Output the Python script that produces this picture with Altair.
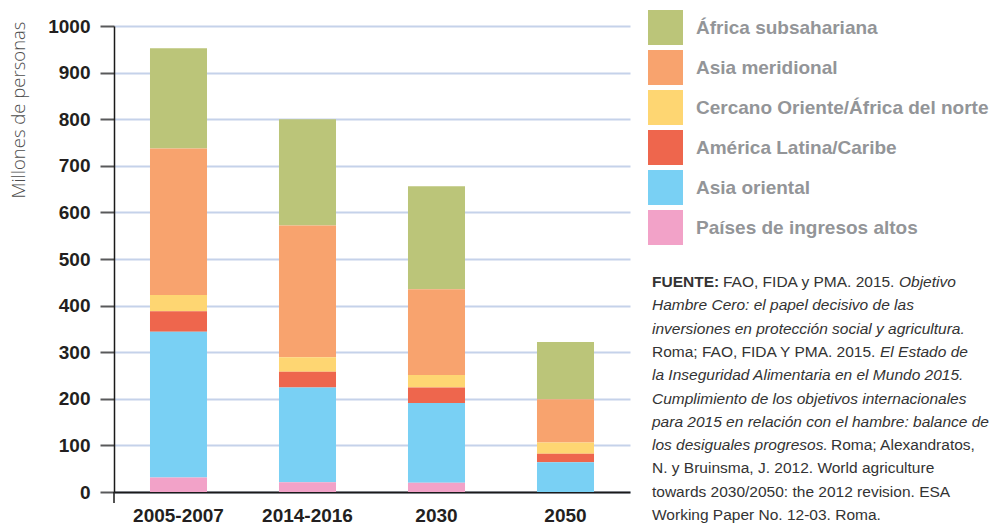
import altair as alt
import pandas as pd

# ---------------- data ----------------
periods = ["2005-2007", "2014-2016", "2030", "2050"]
regions = [
    "África subsahariana",
    "Asia meridional",
    "Cercano Oriente/África del norte",
    "América Latina/Caribe",
    "Asia oriental",
    "Países de ingresos altos",
]
colors = ["#bbc579", "#f8a36e", "#fed672", "#ee664d", "#79d0f4", "#f2a2c8"]

africa_subsahariana = [215, 228, 221, 123]
asia_meridional = [314, 283, 184, 93]
cercano_oriente = [35, 31, 27, 24]
america_latina = [44, 34, 33, 18]
asia_oriental = [313, 203, 171, 64]
ingresos_altos = [31, 21, 20, 0]

series = [africa_subsahariana, asia_meridional, cercano_oriente,
          america_latina, asia_oriental, ingresos_altos]

y_ticks = [0, 100, 200, 300, 400, 500, 600, 700, 800, 900, 1000]

source_lines = [
    ["FUENTE:", "FAO, FIDA y PMA. 2015.", "Objetivo"],
    ["Hambre Cero: el papel decisivo de las"],
    ["inversiones en protección social y agricultura."],
    ["Roma; FAO, FIDA Y PMA. 2015.", "El Estado de"],
    ["la Inseguridad Alimentaria en el Mundo 2015."],
    ["Cumplimiento de los objetivos internacionales"],
    ["para 2015 en relación con el hambre: balance de"],
    ["los desiguales progresos.", "Roma; Alexandratos,"],
    ["N. y Bruinsma, J. 2012. World agriculture"],
    ["towards 2030/2050: the 2012 revision. ESA"],
    ["Working Paper No. 12-03. Roma."],
]

# ---------------- build tables ----------------
rows = []
n = len(regions)
for ri, (reg, vals) in enumerate(zip(regions, series)):
    for p, v in zip(periods, vals):
        rows.append({"periodo": p, "region": reg, "valor": v, "orden": n - ri})
df = pd.DataFrame(rows)

FONT = "Liberation Sans"
TXT = "#231f20"

# layout of source-text segments (weight, style, x start in plot coords)
seg_layout = {
    (0, 0): ("bold", "normal", 538),
    (0, 1): ("normal", "normal", 609),
    (0, 2): ("normal", "italic", 785),
    (3, 0): ("normal", "normal", 538),
    (3, 1): ("normal", "italic", 766),
    (7, 0): ("normal", "italic", 538),
    (7, 1): ("normal", "normal", 717),
}
italic_lines = {1, 2, 4, 5, 6}
seg_rows = []
for li, segs in enumerate(source_lines):
    for si, s in enumerate(segs):
        if (li, si) in seg_layout:
            w, st, x0 = seg_layout[(li, si)]
        else:
            w, st, x0 = ("normal", "italic" if li in italic_lines else "normal", 538)
        seg_rows.append({"line": li, "texto": s, "w": w, "st": st, "x0": x0,
                         "yb": 261 + 23.3 * li})
seg_df = pd.DataFrame(seg_rows)

# ---------------- chart ----------------
bars = alt.Chart(df).mark_bar().encode(
    x=alt.X("periodo:N", sort=periods,
            scale=alt.Scale(paddingInner=0.558, paddingOuter=0.279),
            axis=alt.Axis(title=None, labelAngle=0, ticks=False, labelPadding=14,
                          labelFont=FONT, labelFontSize=19, labelFontWeight="bold",
                          labelColor=TXT, domainColor="#1a1a1a", domainWidth=2,
                          grid=False)),
    y=alt.Y("valor:Q", stack="zero",
            scale=alt.Scale(domain=[0, 1000], nice=False),
            axis=alt.Axis(title="Millones de personas", values=y_ticks, format="d",
                          titleFont="Open Sans", titleFontWeight=300, titleFontSize=18.5,
                          titleColor="#4d4d4d", titleAngle=-90, titleAlign="right",
                          titleBaseline="alphabetic", titleX=-90, titleY=-5,
                          labelFont=FONT, labelFontSize=19, labelFontWeight="bold",
                          labelColor=TXT, labelPadding=10,
                          tickSize=14, tickWidth=2, tickColor="#58595b",
                          domainColor="#1a1a1a", domainWidth=1.5,
                          grid=True, gridColor="#c5d2ea", gridWidth=2)),
    color=alt.Color("region:N",
                    scale=alt.Scale(domain=regions, range=colors),
                    legend=alt.Legend(title=None, orient="none", legendX=534, legendY=-16,
                                      symbolType="square", symbolSize=1225,
                                      symbolStrokeWidth=0, symbolOpacity=1,
                                      rowPadding=5, labelOffset=13, padding=0,
                                      labelFont=FONT, labelFontSize=19,
                                      labelFontWeight="bold", labelColor="#939598",
                                      labelLimit=0)),
    order=alt.Order("orden:Q", sort="ascending"),
)

axis_ext = alt.Chart(pd.DataFrame({"a": [0]})).mark_rule(
    color="#1a1a1a", strokeWidth=1.5
).encode(x=alt.value(0), y=alt.value(466), y2=alt.value(477))

def seg_layer(weight, style):
    sub = seg_df[(seg_df.w == weight) & (seg_df.st == style)]
    return alt.Chart(sub).mark_text(
        align="left", baseline="alphabetic", font=FONT, fontSize=15.5,
        fontWeight=weight, fontStyle=style, color="#333333"
    ).encode(x=alt.X("x0:Q", scale=None), y=alt.Y("yb:Q", scale=None), text="texto:N")

texts = [seg_layer("bold", "normal"), seg_layer("normal", "normal"),
         seg_layer("normal", "italic")]

chart = alt.layer(bars, axis_ext, *texts).properties(
    width=516, height=466,
    autosize=alt.AutoSizeParams(type="none"),
    padding={"left": 106, "top": 18, "right": 362, "bottom": 40},
).configure_view(stroke=None).resolve_scale(x="independent", y="independent")

chart.save("out.html", embed_options={"renderer": "svg", "actions": False})
